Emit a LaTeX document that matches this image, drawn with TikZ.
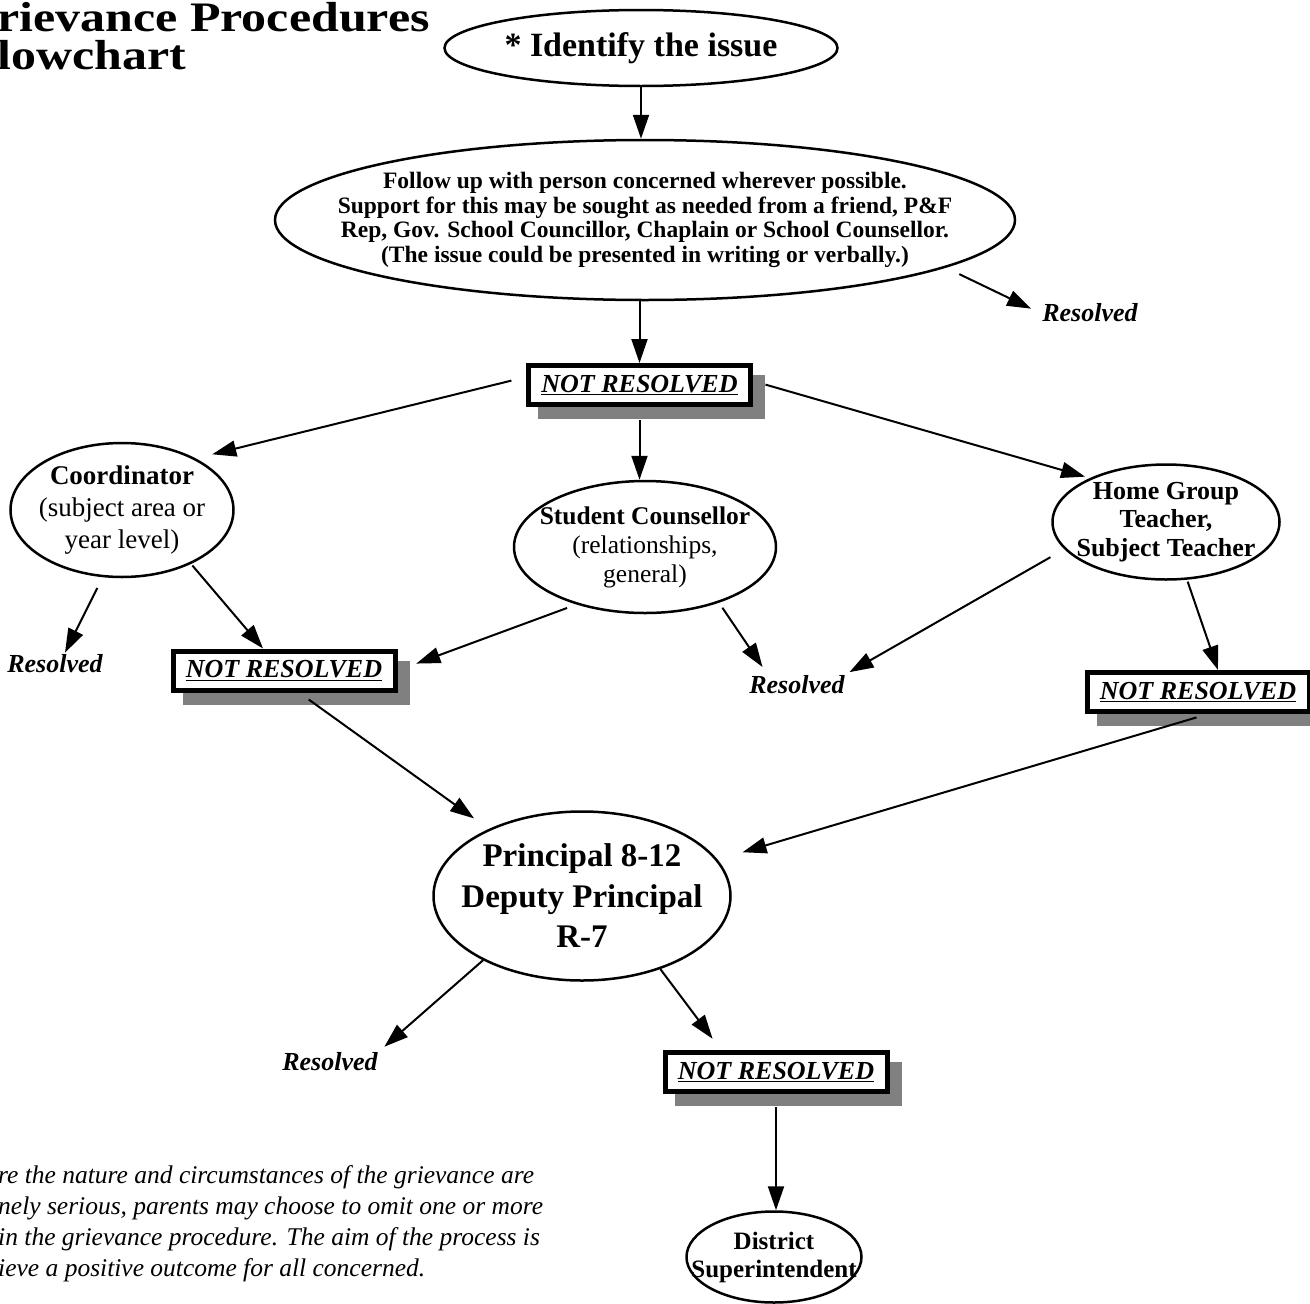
\documentclass[tikz,border=0pt]{standalone}
\usepackage{fontspec}
\setmainfont{Liberation Serif}
\newfontfamily\titlefont[FakeStretch=1.19]{Liberation Serif}
\usetikzlibrary{shapes.geometric,arrows.meta,shadows}

\begin{document}
\begin{tikzpicture}[x=1pt,y=-1pt,
        bubble/.style={draw,ellipse,line width=2.5pt,inner xsep=-100pt,inner ysep=-20pt,align=center},
        notres/.style={draw,line width=5pt,fill=white,minimum width=222pt,minimum height=39pt,inner sep=0,
          font=\fontsize{26}{30}\selectfont\bfseries\itshape,
          general shadow={fill=black!50,draw=black!50,line width=5pt,shadow xshift=12pt,shadow yshift=-12pt}},
        res/.style={font=\fontsize{26}{30}\selectfont\bfseries\itshape,inner sep=2pt},
        arr/.style={line width=2pt,-{Triangle[length=24pt,width=16pt]}}]
        \useasboundingbox (0,0) rectangle (1310,1304);
        \node[anchor=north west,align=left,inner sep=0,font=\titlefont\fontsize{42}{38}\selectfont\bfseries] (title) at (-3,2) {rievance Procedures\\lowchart};
        \node[bubble,minimum width=393pt,minimum height=76pt,font=\fontsize{34}{38}\selectfont\bfseries] (identify) at (641,48) {* Identify the issue};
        \node[bubble,minimum width=740pt,minimum height=160pt,font=\fontsize{23.5}{24.5}\selectfont\bfseries] (follow) at (645,220)
          {Follow up with person concerned wherever possible.\\Support for this may be sought as needed from a friend, P\&F\\Rep, Gov. School Councillor, Chaplain or School Counsellor.\\(The issue could be presented in writing or verbally.)};
        \node[res] (res1) at (1090,313) {Resolved};
        \node[notres] (nr1) at (639.5,385) {\underline{NOT RESOLVED}};
        \node[bubble,minimum width=223pt,minimum height=134pt,font=\fontsize{27}{32}\selectfont] (coord) at (122,510) {\textbf{Coordinator}\\(subject area or\\year level)};
        \node[bubble,minimum width=262pt,minimum height=132pt,font=\fontsize{25.5}{29}\selectfont] (student) at (645,547) {\textbf{Student Counsellor}\\(relationships,\\general)};
        \node[bubble,minimum width=227pt,minimum height=115pt,font=\fontsize{26}{28.5}\selectfont\bfseries] (home) at (1166,522) {Home Group\\Teacher,\\Subject Teacher};
        \node[res] (res2) at (55,664) {Resolved};
        \node[notres] (nr2) at (284,670.5) {\underline{NOT RESOLVED}};
        \node[res] (res3) at (797,685) {Resolved};
        \node[notres] (nr3) at (1198,692) {\underline{NOT RESOLVED}};
        \node[bubble,minimum width=297pt,minimum height=169pt,font=\fontsize{33}{40.5}\selectfont\bfseries] (principal) at (582,896) {Principal 8-12\\Deputy Principal\\R-7};
        \node[res] (res4) at (330,1062) {Resolved};
        \node[notres] (nr4) at (776,1072) {\underline{NOT RESOLVED}};
        \node[bubble,minimum width=175pt,minimum height=91pt,font=\fontsize{25}{28}\selectfont\bfseries] (district) at (774,1257) {District\\Superintendent};
        \node[anchor=north west,align=left,inner sep=0,font=\fontsize{25.5}{31}\selectfont\itshape] (note) at (-2,1165)
          {re the nature and circumstances of the grievance are\\nely serious, parents may choose to omit one or more\\in the grievance procedure. The aim of the process is\\ieve a positive outcome for all concerned.};
        \draw[arr] (identify.south) -- (identify.south |- follow.north);
        \draw[arr,shorten <=15pt,shorten >=10pt] (follow.-9) -- (res1.west);
        \draw[arr] (nr1.north |- follow.south) -- (nr1.north);
        \draw[arr,shorten <=15pt,shorten >=17pt] ([yshift=8pt]nr1.west) -- (coord.35);
        \draw[arr,shorten <=13pt] (nr1.south) -- (nr1.south |- student.north);
        \draw[arr,shorten <=13pt,shorten >=5pt] ([yshift=4pt]nr1.east) -- (home.150);
        \draw[arr,shorten <=12pt] (coord.-106) -- ([xshift=10pt]res2.north);
        \draw[arr,shorten <=2pt] (coord.-38) -- ([xshift=-21pt]nr2.north);
        \draw[arr,shorten <=10pt,shorten >=20pt] (student.-140) -- (nr2.east);
        \draw[arr,shorten <=6pt,shorten >=8pt] (student.-37) -- ([xshift=-30pt]res3.north);
        \draw[arr,shorten <=16pt,shorten >=3pt] (home.195) -- (res3.north east);
        \draw[arr,shorten <=2pt] (home.-70) -- ([xshift=20pt]nr3.north);
        \draw[arr,shorten <=12pt,shorten >=18pt] ([xshift=15pt]nr2.south) -- (principal);
        \draw[arr,shorten <=12pt,shorten >=26pt] ([xshift=10pt]nr3.south) -- (principal.15);
        \draw[arr,shorten >=6pt] (principal.-147) -- (res4.north east);
        \draw[arr,shorten >=14pt] (principal.-43) -- ([xshift=-55pt]nr4.north);
        \draw[arr,shorten <=13pt] (nr4.south) -- (nr4.south |- district.north);
      \end{tikzpicture}
\end{document}
